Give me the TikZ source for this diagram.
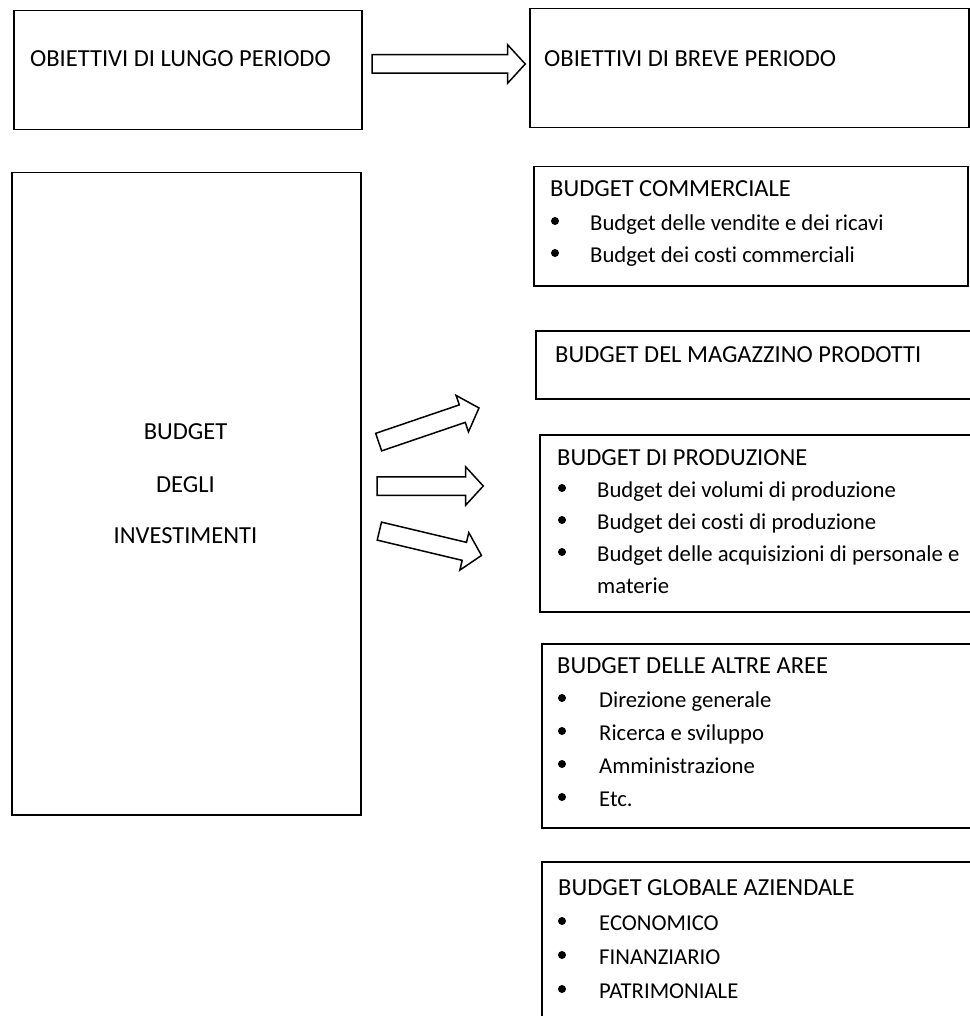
\documentclass[tikz,border=0pt]{standalone}
\usepackage{fontspec}
\setmainfont{Carlito}[Ligatures=NoCommon]
\usetikzlibrary{shapes.arrows}

\tikzset{
    box/.style={draw, line width=1.5pt, anchor=north west, inner sep=0pt},
    txt/.style={anchor=base west, inner sep=0pt, font=\fontsize{24.5}{30}\selectfont},
    itm/.style={txt, font=\fontsize{22.7}{28}\selectfont},
    mid/.style={txt, anchor=base},
    bigarrow/.style={single arrow, draw, line width=1.5pt, inner sep=8.5pt,
        single arrow head extend=10pt, single arrow head indent=0pt,
        single arrow tip angle=95},
}

\begin{document}
\begin{tikzpicture}[x=1pt, y=-1pt]
        \useasboundingbox (0, 0) rectangle (969, 1016);

        % boxes
        \node[box, minimum width=348pt, minimum height=119pt] (lungo) at (13, 10) {};
        \node[box, minimum width=439pt, minimum height=119pt] (breve) at (529, 8) {};
        \node[box, minimum width=349pt, minimum height=642pt] (invest) at (11, 172) {};
        \node[box, minimum width=434pt, minimum height=119pt] (comm) at (533, 166) {};
        \node[box, minimum width=480pt, minimum height=68pt] (magaz) at (535, 330) {};
        \node[box, minimum width=480pt, minimum height=177pt] (prod) at (539, 434) {};
        \node[box, minimum width=480pt, minimum height=184pt] (altre) at (541, 643) {};
        \node[box, minimum width=480pt, minimum height=200pt] (glob) at (541, 861) {};

        % arrows
        \node[bigarrow, minimum height=153pt] (arrtop) at (444.5, 64) {};
        \node[bigarrow, minimum height=106pt, rotate=18.8] (arrup) at (424.8, 426.4) {};
        \node[bigarrow, minimum height=106pt] (arrmid) at (426, 486) {};
        \node[bigarrow, minimum height=105pt, rotate=-13.4] (arrdown) at (426.3, 542.3) {};

        % titles
        \node[txt] (tlungo) at (30, 67) {OBIETTIVI DI LUNGO PERIODO};
        \node[txt] (tbreve) at (544, 67) {OBIETTIVI DI BREVE PERIODO};

        \node[mid] (tinv1) at (185.5, 439) {BUDGET};
        \node[mid] (tinv2) at (185.5, 492) {DEGLI};
        \node[mid] (tinv3) at (185.5, 543) {INVESTIMENTI};

        \node[txt] (tcomm) at (550, 197) {BUDGET COMMERCIALE};
        \node[itm] (comm1) at (590, 230) {Budget delle vendite e dei ricavi};
        \node[itm] (comm2) at (590, 262) {Budget dei costi commerciali};
        \fill (555, 221) circle (4pt);
        \fill (555, 253) circle (4pt);

        \node[txt] (tmagaz) at (555, 362) {BUDGET DEL MAGAZZINO PRODOTTI};

        \node[txt] (tprod) at (557, 465) {BUDGET DI PRODUZIONE};
        \node[itm] (prod1) at (597, 497) {Budget dei volumi di produzione};
        \node[itm] (prod2) at (597, 529) {Budget dei costi di produzione};
        \node[itm] (prod3) at (597, 561) {Budget delle acquisizioni di personale e};
        \node[itm] (prod4) at (597, 593) {materie};
        \fill (562, 488) circle (4pt);
        \fill (562, 520) circle (4pt);
        \fill (562, 552) circle (4pt);

        \node[txt] (taltre) at (557, 673) {BUDGET DELLE ALTRE AREE};
        \node[itm] (altre1) at (599, 707) {Direzione generale};
        \node[itm] (altre2) at (599, 740) {Ricerca e sviluppo};
        \node[itm] (altre3) at (599, 773) {Amministrazione};
        \node[itm] (altre4) at (599, 806) {Etc.};
        \fill (562, 698) circle (4pt);
        \fill (562, 731) circle (4pt);
        \fill (562, 764) circle (4pt);
        \fill (562, 797) circle (4pt);

        \node[txt] (tglob) at (558, 895) {BUDGET GLOBALE AZIENDALE};
        \node[itm] (glob1) at (599, 930) {ECONOMICO};
        \node[itm] (glob2) at (599, 964) {FINANZIARIO};
        \node[itm] (glob3) at (599, 998) {PATRIMONIALE};
        \fill (562, 921) circle (4pt);
        \fill (562, 955) circle (4pt);
        \fill (562, 989) circle (4pt);
\end{tikzpicture}
\end{document}
